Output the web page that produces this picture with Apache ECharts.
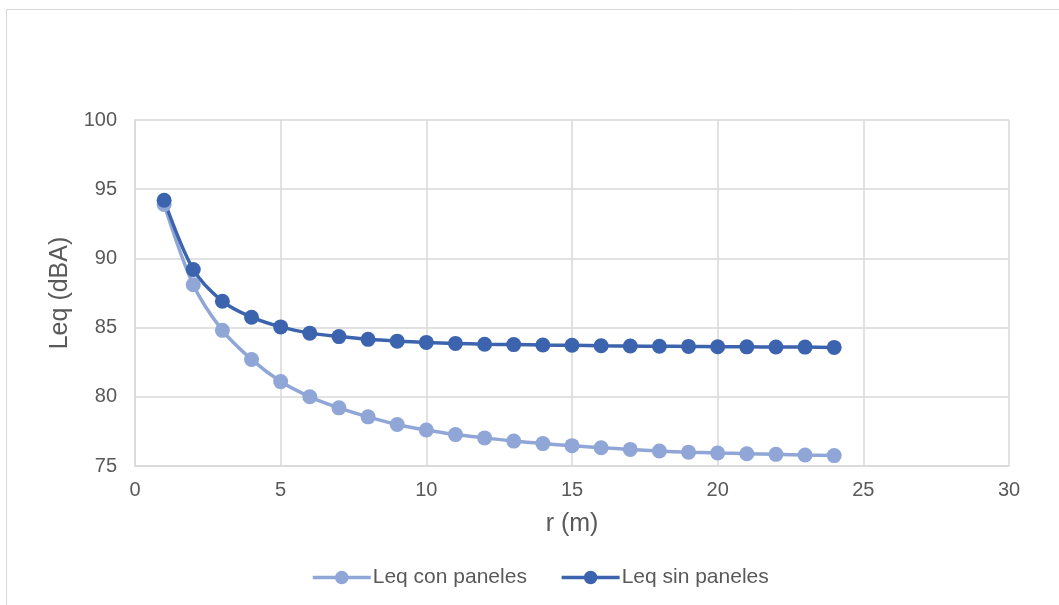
<!DOCTYPE html>
<html>
<head>
<meta charset="utf-8">
<script src="https://cdn.jsdelivr.net/npm/echarts@6/dist/echarts.min.js"></script>
<style>
html,body{margin:0;padding:0;background:#fff;}
#chart{width:1059px;height:605px;}
</style>
</head>
<body>
<div id="chart"></div>
<script>
const distances = [1,2,3,4,5,6,7,8,9,10,11,12,13,14,15,16,17,18,19,20,21,22,23,24];
const leqConPaneles = [93.9,88.1,84.8,82.7,81.1,80.0,79.2,78.55,78.0,77.6,77.27,77.03,76.8,76.62,76.47,76.32,76.2,76.08,76.0,75.94,75.89,75.84,75.79,75.75];
const leqSinPaneles = [94.2,89.2,86.9,85.75,85.05,84.6,84.35,84.15,84.02,83.93,83.86,83.8,83.77,83.74,83.72,83.69,83.67,83.65,83.64,83.62,83.61,83.6,83.59,83.57];
const seriesNames = ['Leq con paneles','Leq sin paneles'];
const xTitle = 'r (m)';
const yTitle = 'Leq (dBA)';

const toPairs = (xs, ys) => xs.map((x, i) => [x, ys[i]]);
const chart = echarts.init(document.getElementById('chart'), null, {renderer:'canvas'});
const font = 'Liberation Sans, Arial, sans-serif';
chart.setOption({
  animation:false,
  backgroundColor:'#fff',
  graphic:[{type:'rect', shape:{x:6.5,y:9.5,width:1100,height:700}, style:{fill:'none', stroke:'#D9D9D9', lineWidth:1}, silent:true}],
  grid:{left:135, right:50, top:120, bottom:139},
  legend:{
    bottom:12, left:306, itemWidth:58, itemHeight:17, itemGap:33,
    textStyle:{color:'#595959', fontSize:21, fontFamily:font, padding:[0,0,0,-3]},
    lineStyle:{width:3.5},
    data:seriesNames
  },
  xAxis:{
    type:'value', min:0, max:30, interval:5,
    name:xTitle, nameLocation:'middle', nameGap:46,
    nameTextStyle:{color:'#595959', fontSize:25, fontFamily:font},
    axisLine:{show:true, lineStyle:{color:'#D9D9D9', width:1.5}},
    axisTick:{show:false},
    axisLabel:{color:'#595959', fontSize:20, fontFamily:font, margin:14},
    splitLine:{show:true, lineStyle:{color:'#D9D9D9', width:1.5}}
  },
  yAxis:{
    type:'value', min:75, max:100, interval:5,
    name:yTitle, nameLocation:'middle', nameGap:61, nameRotate:90,
    nameTextStyle:{color:'#595959', fontSize:25, fontFamily:font},
    axisLine:{show:true, lineStyle:{color:'#D9D9D9', width:1.5}},
    axisTick:{show:false},
    axisLabel:{color:'#595959', fontSize:20, fontFamily:font, margin:18},
    splitLine:{show:true, lineStyle:{color:'#D9D9D9', width:1.5}}
  },
  series:[
    {name:seriesNames[0], type:'line', data:toPairs(distances, leqConPaneles), smooth:0.3,
     symbol:'circle', symbolSize:15, color:'#8FA6D6',
     lineStyle:{width:3.5, color:'#8FA6D6'}, itemStyle:{color:'#8FA6D6'}},
    {name:seriesNames[1], type:'line', data:toPairs(distances, leqSinPaneles), smooth:0.3,
     symbol:'circle', symbolSize:15, color:'#3C64AE',
     lineStyle:{width:3.5, color:'#3C64AE'}, itemStyle:{color:'#3C64AE'}}
  ]
});
</script>
</body>
</html>
